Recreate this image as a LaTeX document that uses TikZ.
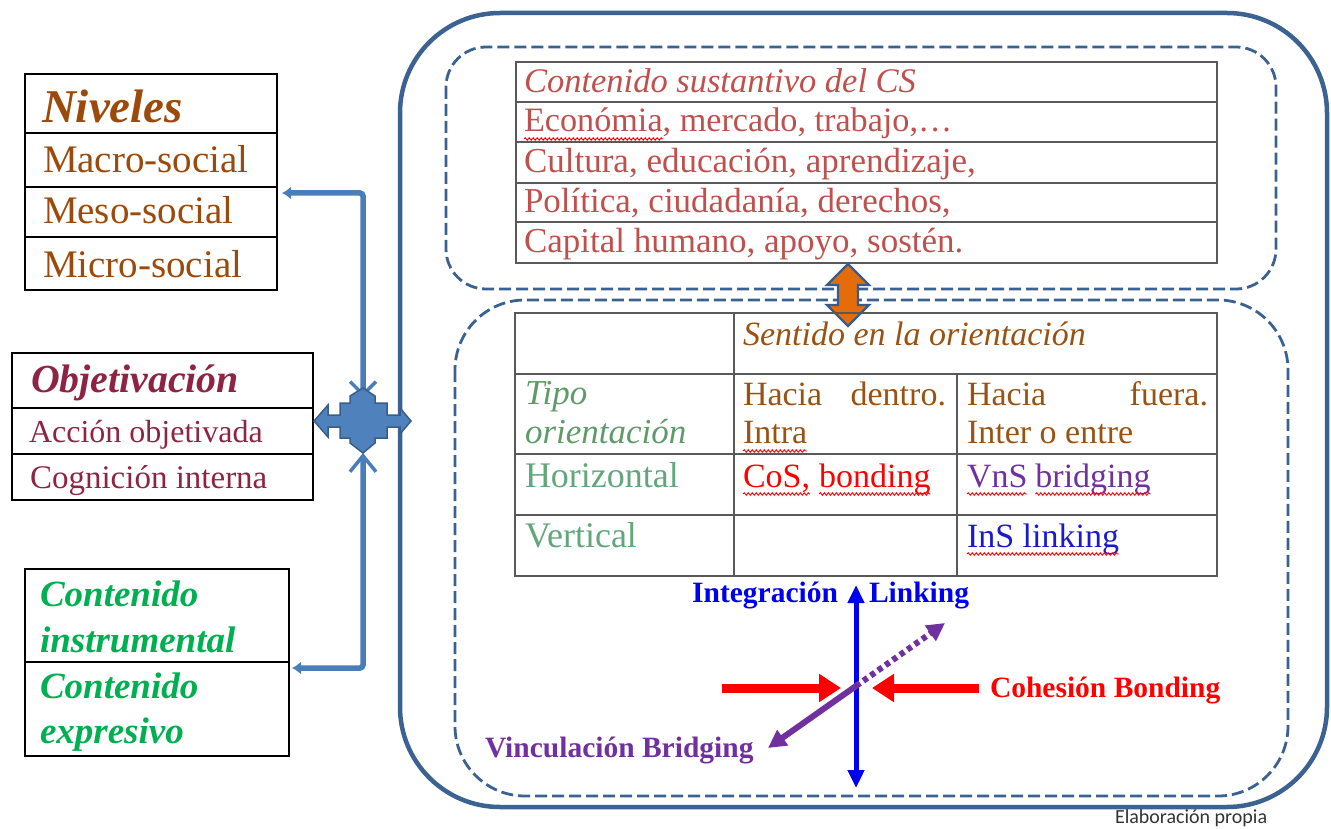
\documentclass[tikz,border=0pt]{standalone}
\usepackage{fontspec}
\setmainfont{Liberation Serif}
\newfontfamily\calib{Carlito}
\usetikzlibrary{arrows.meta,decorations.pathmorphing,calc}
\definecolor{brownT}{HTML}{9C4A0C}
\definecolor{objC}{HTML}{8E2442}
\definecolor{greenC}{HTML}{00B050}
\definecolor{tabR}{HTML}{C0504D}
\definecolor{hdrB}{HTML}{9A5212}
\definecolor{greenTipo}{HTML}{5E9B6A}
\definecolor{greenH}{HTML}{62A67C}
\definecolor{purpleC}{HTML}{7030A0}
\definecolor{blueInS}{HTML}{1A1ACC}
\definecolor{blueL}{HTML}{0000F0}
\definecolor{outerC}{HTML}{3C6291}
\definecolor{dashC}{HTML}{3A6190}
\definecolor{hubFill}{HTML}{4F81BD}
\definecolor{hubDraw}{HTML}{385D8A}
\definecolor{connC}{HTML}{4A7EBB}
\definecolor{orangeC}{HTML}{E46C0A}
\definecolor{tabLine}{HTML}{595959}
\newcommand\myfs[1]{\fontsize{#1}{#1}\selectfont}
\begin{document}
\begin{tikzpicture}[x=1pt,y=-1pt,
  txt/.style={inner sep=0pt, outer sep=0pt, anchor=base west},
  txte/.style={inner sep=0pt, outer sep=0pt, anchor=base east},
  lbox/.style={draw=black, line width=1.8pt, inner sep=0pt, outer sep=0pt},
  lsep/.style={draw=black, line width=1.8pt},
  tbox/.style={draw=tabLine, line width=2.6pt, inner sep=0pt, outer sep=0pt},
  tsep/.style={draw=tabLine, line width=2.6pt},
  dashbox/.style={draw=dashC, line width=2.8pt, dash pattern=on 12pt off 5pt},
  conn/.style={draw=connC, line width=5.5pt, rounded corners=3pt},
  squig/.style={draw=red, line width=0.9pt, decorate, decoration={snake, amplitude=1.3pt, segment length=4pt}},
]
\useasboundingbox (0,0) rectangle (1331,829);

% ---------- outer containers ----------
\draw[draw=outerC, line width=4.5pt, rounded corners=100pt] (400,13) rectangle (1327,807);
\draw[dashbox, rounded corners=40pt] (446,47) rectangle (1276,289);
\draw[dashbox, rounded corners=70pt] (455,300) rectangle (1288,796);

% ---------- left boxes ----------
\node[lbox, minimum width=252pt, minimum height=216pt] (niv) at (151,182) {};
\draw[lsep] (25,133) -- (277,133);
\draw[lsep] (25,187) -- (277,187);
\draw[lsep] (25,237) -- (277,237);
\node[txt, font={\myfs{47}\bfseries\itshape}, text=brownT] (tniv) at (42,123) {Niveles};
\node[txt, font={\myfs{39}}, text=brownT] (tmac) at (43,173) {Macro-social};
\node[txt, font={\myfs{39}}, text=brownT] (tmes) at (43,224) {Meso-social};
\node[txt, font={\myfs{39}}, text=brownT] (tmic) at (43,277) {Micro-social};

\node[lbox, minimum width=301pt, minimum height=147pt] (obj) at (162.5,426.5) {};
\draw[lsep] (12,408) -- (313,408);
\draw[lsep] (12,454) -- (313,454);
\node[txt, font={\myfs{39.8}\bfseries\itshape}, text=objC] (tobj) at (31,392) {Objetivación};
\node[txt, font={\myfs{32}}, text=objC] (tacc) at (29,442) {Acción objetivada};
\node[txt, font={\myfs{33}}, text=objC] (tcog) at (30,488) {Cognición interna};

\node[lbox, minimum width=264pt, minimum height=187pt] (cont) at (157,662.5) {};
\draw[lsep] (25,662) -- (289,662);
\node[txt, font={\myfs{37}\bfseries\itshape}, text=greenC] (tc1) at (40,606) {Contenido};
\node[txt, font={\myfs{37}\bfseries\itshape}, text=greenC] (tc2) at (40,652) {instrumental};
\node[txt, font={\myfs{37}\bfseries\itshape}, text=greenC] (tc3) at (40,698) {Contenido};
\node[txt, font={\myfs{37}\bfseries\itshape}, text=greenC] (tc4) at (40,743) {expresivo};

% ---------- connectors to hub ----------
\coordinate (hub) at (363,421);
\draw[conn, {Latex[length=9pt,width=13pt]}-{Straight Barb[length=13pt,width=26pt,line width=3.5pt]}]
  ($(niv.east)+(5,11)$) -| ($(hub)+(0,-24)$);
\draw[conn, {Latex[length=9pt,width=13pt]}-{Straight Barb[length=16pt,width=26pt,line width=3.5pt]}]
  ($(cont.east)+(3,5.5)$) -| ($(hub)+(0,32)$);

% hub quad arrow
\filldraw[fill=hubFill, draw=hubDraw, line width=1.5pt, line join=miter]
  (314,421) -- (328,405) -- (328,415) -- (340,415) -- (340,403) -- (350,403) -- (350,396)
  -- (363,388) -- (375,396) -- (375,403) -- (387,403) -- (387,415) -- (400,415) -- (400,408)
  -- (411,421) -- (400,434) -- (400,427) -- (387,427) -- (387,438) -- (375,438) -- (375,443)
  -- (363,453) -- (350,443) -- (350,438) -- (340,438) -- (340,427) -- (328,427) -- (328,437) -- cycle;

% ---------- top table ----------
\node[tbox, minimum width=701pt, minimum height=201pt] (tab1) at (866.5,162.5) {};
\draw[tsep] (516,102) -- (1217,102);
\draw[tsep] (516,142) -- (1217,142);
\draw[tsep] (516,183) -- (1217,183);
\draw[tsep] (516,222) -- (1217,222);
\node[txt, font={\myfs{34.5}\itshape}, text=tabR] (cs0) at (524,93) {Contenido sustantivo del CS};
\node[txt, font={\myfs{34.2}}, text=tabR] (cs1a) at (524,132) {Económia};
\node[txt, font={\myfs{34.2}}, text=tabR] (cs1b) at (cs1a.base east) {, mercado, trabajo,…};
\node[txt, font={\myfs{35}}, text=tabR] (cs2) at (524,173) {Cultura, educación, aprendizaje,};
\node[txt, font={\myfs{35}}, text=tabR] (cs3) at (524,213) {Política, ciudadanía, derechos,};
\node[txt, font={\myfs{35}}, text=tabR] (cs4) at (524,253) {Capital humano, apoyo, sostén.};
\draw[squig] ($(cs1a.base west)+(0,7)$) -- ($(cs1a.base east)+(0,7)$);

% orange double arrow between tables
\filldraw[fill=orangeC, draw=hubDraw, line width=2.2pt, line join=miter]
  (848,264) -- (869,285) -- (858,285) -- (858,305) -- (869,305) -- (848,326)
  -- (827,305) -- (838,305) -- (838,285) -- (827,285) -- cycle;

% ---------- lower table ----------
\node[tbox, minimum width=702pt, minimum height=263pt] (tab2) at (866,444.5) {};
\draw[tsep] (515,374) -- (1217,374);
\draw[tsep] (515,454) -- (1217,454);
\draw[tsep] (515,515) -- (1217,515);
\draw[tsep] (734,313) -- (734,576);
\draw[tsep] (957,374) -- (957,576);
\node[txt, font={\myfs{34}\itshape}, text=hdrB] (hd) at (743,345) {Sentido en la orientación};
\node[txt, font={\myfs{35}\itshape}, text=greenTipo] (tp1) at (525,404) {Tipo};
\node[txt, font={\myfs{35}\itshape}, text=greenTipo] (tp2) at (525,443) {orientación};
\node[txt, font={\myfs{36}}, text=greenH] (hz) at (525,487) {Horizontal};
\node[txt, font={\myfs{36}}, text=greenH] (vt) at (525,547) {Vertical};
\node[txt, font={\myfs{34}}, text=hdrB] (hd1) at (743,405) {Hacia};
\node[txte, font={\myfs{34}}, text=hdrB] (hd2) at (946,405) {dentro.};
\node[txt, font={\myfs{34}}, text=hdrB] (intra) at (743,443) {Intra};
\node[txt, font={\myfs{34}}, text=hdrB] (hf1) at (967,405) {Hacia};
\node[txte, font={\myfs{34}}, text=hdrB] (hf2) at (1208,405) {fuera.};
\node[txt, font={\myfs{34}}, text=hdrB] (inter) at (967,443) {Inter o entre};
\node[txt, font={\myfs{34}}, text=red] (cos) at (743,487) {CoS,};
\node[txt, font={\myfs{34}}, text=red] (bond) at ($(cos.base east)+(9,0)$) {bonding};
\node[txt, font={\myfs{34}}, text=purpleC] (vns) at (967,487) {VnS};
\node[txt, font={\myfs{34}}, text=purpleC] (brid) at ($(vns.base east)+(8,0)$) {bridging};
\node[txt, font={\myfs{34}}, text=blueInS] (ins) at (967,547) {InS linking};
\draw[squig] ($(intra.base west)+(0,8)$) -- ($(intra.base east)+(0,8)$);
\draw[squig] ($(cos.base west)+(0,7)$) -- ($(cos.base east)+(0,7)$);
\draw[squig] ($(bond.base west)+(0,7)$) -- ($(bond.base east)+(0,7)$);
\draw[squig] ($(vns.base west)+(0,7)$) -- ($(vns.base east)+(0,7)$);
\draw[squig] ($(brid.base west)+(0,7)$) -- ($(brid.base east)+(0,7)$);
\draw[squig] ($(ins.base west)+(0,7)$) -- ($(ins.base east)+(0,7)$);

% ---------- orientation arrows ----------
\coordinate (ctr) at (856,686);
\coordinate (vtop) at (856,585);
\coordinate (vbot) at (856,788);
\coordinate (rl) at (722,688);
\coordinate (rlt) at (841,688);
\coordinate (rr) at (979,688);
\coordinate (rrt) at (872,688);
\coordinate (pdl) at (768,748);
\coordinate (pur) at (945,623);
\draw[draw=blueL, line width=5pt, {Triangle[length=18pt,width=16pt]}-{Triangle[length=18pt,width=16pt]}] (vtop) -- (vbot);
\draw[draw=red, line width=9pt, -{Triangle[length=22pt,width=27pt]}] (rl) -- (rlt);
\draw[draw=red, line width=9pt, -{Triangle[length=22pt,width=27pt]}] (rr) -- (rrt);
\draw[draw=purpleC, line width=6pt, -{Triangle[length=18pt,width=18pt]}] (ctr) -- (pdl);
\draw[draw=purpleC, line width=6pt, dash pattern=on 5pt off 4pt, -{Triangle[length=18pt,width=18pt]}] (ctr) -- (pur);

\node[txte, font={\myfs{29.5}\bfseries}, text=blueL] (lint) at (838,602) {Integración};
\node[txt, font={\myfs{29.5}\bfseries}, text=blueL] (llink) at (869,602) {Linking};
\node[txt, font={\myfs{29.5}\bfseries}, text=red] (lcoh) at (990,697) {Cohesión Bonding};
\node[txt, font={\myfs{29.5}\bfseries}, text=purpleC] (lvin) at (485,757) {Vinculación Bridging};

\node[txt, font={\calib\myfs{20}}, text=black!80] (elab) at (1115,823) {Elaboración propia};
\end{tikzpicture}
\end{document}
